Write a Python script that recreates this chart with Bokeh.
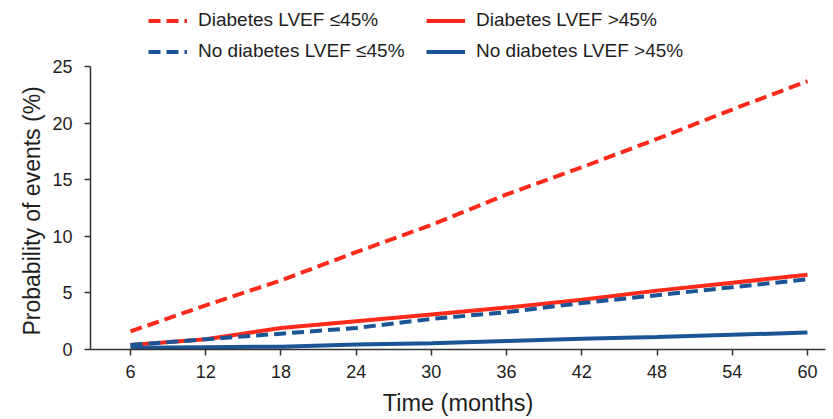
from bokeh.plotting import figure
from bokeh.models import Legend, LegendItem, FixedTicker, Range1d, Title
from bokeh.embed import file_html
from bokeh.resources import INLINE

months = [6, 12, 18, 24, 30, 36, 42, 48, 54, 60]
diab_low = [1.6, 3.9, 6.1, 8.6, 11.0, 13.7, 16.1, 18.6, 21.2, 23.7]
diab_high = [0.4, 0.9, 1.9, 2.5, 3.1, 3.7, 4.4, 5.2, 5.9, 6.6]
nodiab_low = [0.4, 0.9, 1.4, 1.9, 2.7, 3.3, 4.1, 4.8, 5.5, 6.2]
nodiab_high = [0.15, 0.2, 0.25, 0.45, 0.55, 0.75, 0.95, 1.1, 1.3, 1.5]
x_ticks = [6, 12, 18, 24, 30, 36, 42, 48, 54, 60]
y_ticks = [0, 5, 10, 15, 20, 25]

RED = "#FF2A1A"
BLUE = "#1B5596"
FONT = "Liberation Sans"
TXT = "#1e1e1e"

# frame reaches the top of the page (room for the legend); y axis line bounded to 0..25
Y_MAX = 25
y_top = Y_MAX * 349 / 283

p = figure(width=833, height=419, output_backend="svg", toolbar_location=None,
           x_range=Range1d(2.81, 61.44), y_range=Range1d(0, y_top),
           min_border_left=90, min_border_right=8, min_border_top=0, min_border_bottom=70)
p.outline_line_color = None
p.grid.grid_line_color = None

r_dh = p.line(months, diab_high, line_color=RED, line_width=4)
r_nh = p.line(months, nodiab_high, line_color=BLUE, line_width=4)
r_nl = p.line(months, nodiab_low, line_color=BLUE, line_width=4, line_dash="12 6")
r_dl = p.line(months, diab_low, line_color=RED, line_width=4, line_dash="12 6")

for ax in (p.xaxis[0], p.yaxis[0]):
    ax.axis_line_color = "#333333"
    ax.axis_line_width = 1.5
    ax.major_tick_line_color = "#333333"
    ax.major_tick_line_width = 1.5
    ax.major_tick_in = 0
    ax.major_tick_out = 6
    ax.minor_tick_line_color = None
    ax.major_label_text_font = FONT
    ax.major_label_text_font_size = "18px"
    ax.major_label_text_color = TXT
    ax.axis_label_text_font = FONT
    ax.axis_label_text_font_style = "normal"
    ax.axis_label_text_color = TXT

p.yaxis.bounds = (0, Y_MAX)
p.xaxis.ticker = FixedTicker(ticks=x_ticks)
p.yaxis.ticker = FixedTicker(ticks=y_ticks)
p.xaxis.axis_label = "Time (months)"
p.xaxis.axis_label_text_font_size = "23.5px"
p.xaxis.major_label_standoff = 9
p.xaxis.axis_label_standoff = 9
p.yaxis.major_label_standoff = 12

ytitle = Title(text="Probability of events (%)", align="left", offset=14,
               text_font=FONT, text_font_size="23px", text_font_style="normal",
               text_color=TXT, standoff=10)
p.add_layout(ytitle, "left")

legend = Legend(items=[
    LegendItem(label="Diabetes LVEF \u226445%", renderers=[r_dl]),
    LegendItem(label="No diabetes LVEF \u226445%", renderers=[r_nl]),
    LegendItem(label="Diabetes LVEF >45%", renderers=[r_dh]),
    LegendItem(label="No diabetes LVEF >45%", renderers=[r_nh]),
], ncols=2, location=(58, 287))
legend.label_text_font = FONT
legend.label_text_font_size = "19px"
legend.label_text_color = TXT
legend.glyph_width = 39
legend.glyph_height = 15
legend.label_height = 15
legend.label_width = 219
legend.label_standoff = 11
legend.spacing = 9
legend.padding = 0
legend.margin = 0
legend.border_line_color = None
legend.background_fill_alpha = 0
p.add_layout(legend)

open("out.html", "w").write(file_html(p, INLINE))
